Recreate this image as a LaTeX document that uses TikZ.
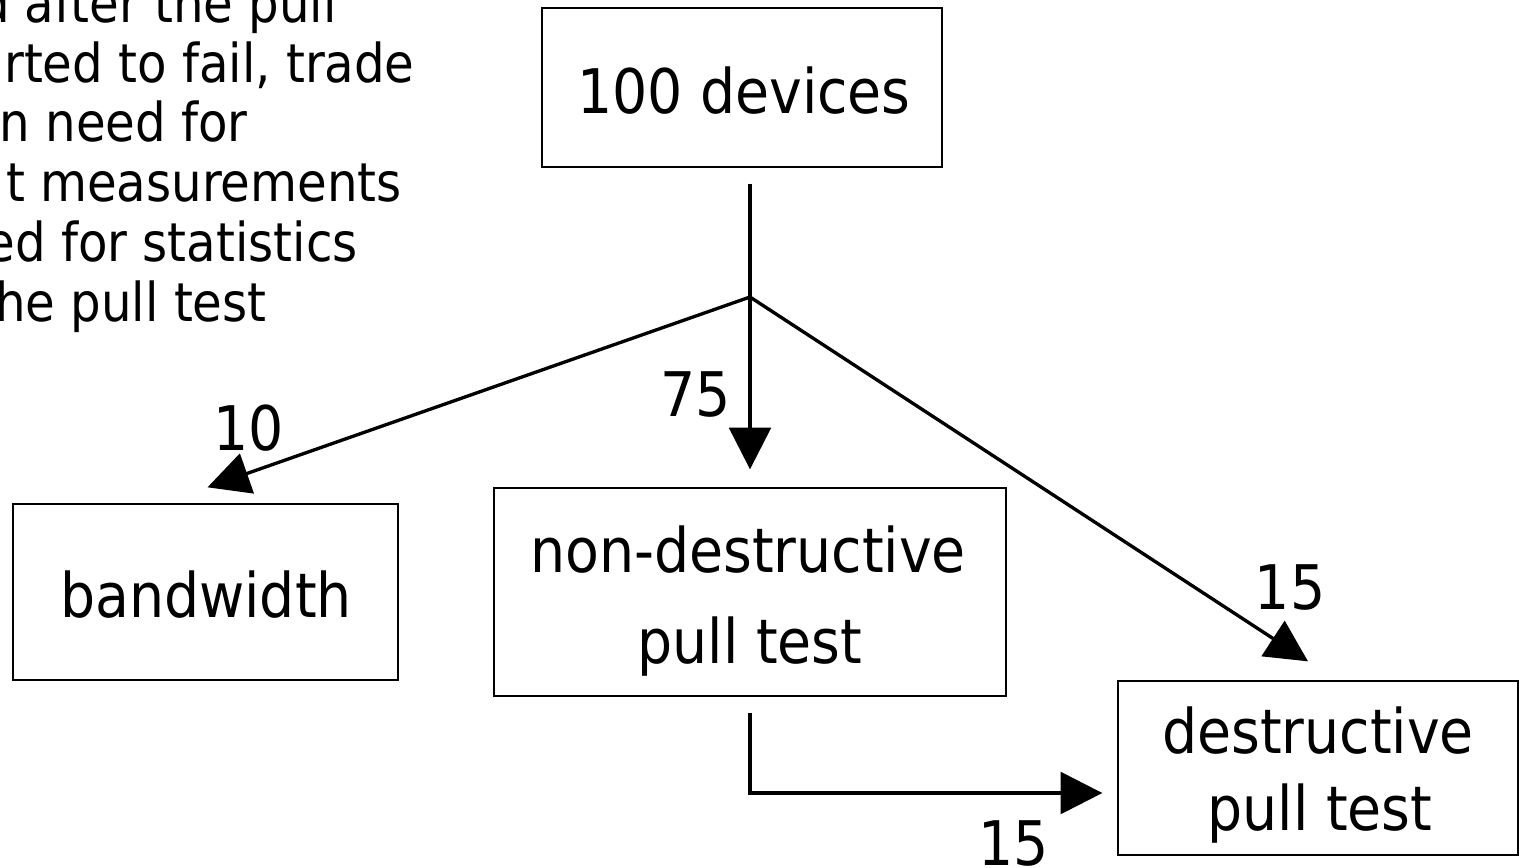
\documentclass[tikz,border=0pt]{standalone}
\usepackage{fontspec}
\setmainfont{DejaVu Sans Condensed}
\usetikzlibrary{arrows.meta}

\tikzset{
  box/.style={draw, line width=0.8pt, inner sep=0pt},
  boxtext/.style={font=\fontsize{35}{42}\selectfont, inner sep=0pt, anchor=base},
  conn/.style={line width=1.9pt},
  arr/.style={conn, -{Triangle[length=23.8pt,width=23.8pt]}},
  count/.style={font=\fontsize{35}{42}\selectfont, inner sep=0pt},
  note/.style={font=\fontsize{30.5}{36}\selectfont, inner sep=0pt, anchor=base east}
}

\begin{document}
\begin{tikzpicture}[x=0.02cm, y=-0.02cm]
    \useasboundingbox (0,0) rectangle (1524,867);
    \clip (0,0) rectangle (1524,867);

    % note, cut off at the left edge
    \node[note] (note1) at (337,22) {d after the pull};
    \node[note] (note2) at (415,82) {rted to fail, trade};
    \node[note] (note3) at (248,141) {n need for};
    \node[note] (note4) at (402,201) {t measurements};
    \node[note] (note5) at (358,261) {ed for statistics};
    \node[note] (note6) at (267,321) {he pull test};

    \node[box, minimum width=8cm, minimum height=3.18cm] (devices) at (742,87.5) {};
    \node[box, minimum width=7.7cm, minimum height=3.52cm] (bandwidth) at (205.5,592) {};
    \node[box, minimum width=10.24cm, minimum height=4.16cm] (nondes) at (750,592) {};
    \node[box, minimum width=8cm, minimum height=3.48cm] (des) at (1318,768) {};

    \node[boxtext] (devicesA) at (744,113) {100 devices};
    \node[boxtext] (bandwidthA) at (206,617) {bandwidth};
    \node[boxtext] (nondesA) at (748,572) {non-destructive};
    \node[boxtext] (nondesB) at (750,663) {pull test};
    \node[boxtext] (desA) at (1318,753) {destructive};
    \node[boxtext] (desB) at (1320,830) {pull test};

    \coordinate (split) at (750,297);
    \draw[conn, shorten <=0.32cm] (split |- devices.south) -- (split);
    \draw[arr, shorten >=0.36cm] (split) -- (split |- nondes.north);
    \draw[arr] (split) -- ([xshift=0.04cm,yshift=0.32cm]bandwidth.north);
    \draw[arr] (split) -- ([xshift=-0.2cm,yshift=0.38cm]des.north);
    \draw[arr, shorten <=0.32cm, shorten >=0.3cm] (nondes.south) |- ([yshift=-0.5cm]des.west);

    \node[count] (n10) at (249,428) {10};
    \node[count] (n75) at (696,395) {75};
    \node[count] (n15a) at (1290,588) {15};
    \node[count] (n15b) at (1014,843) {15};
\end{tikzpicture}
\end{document}
